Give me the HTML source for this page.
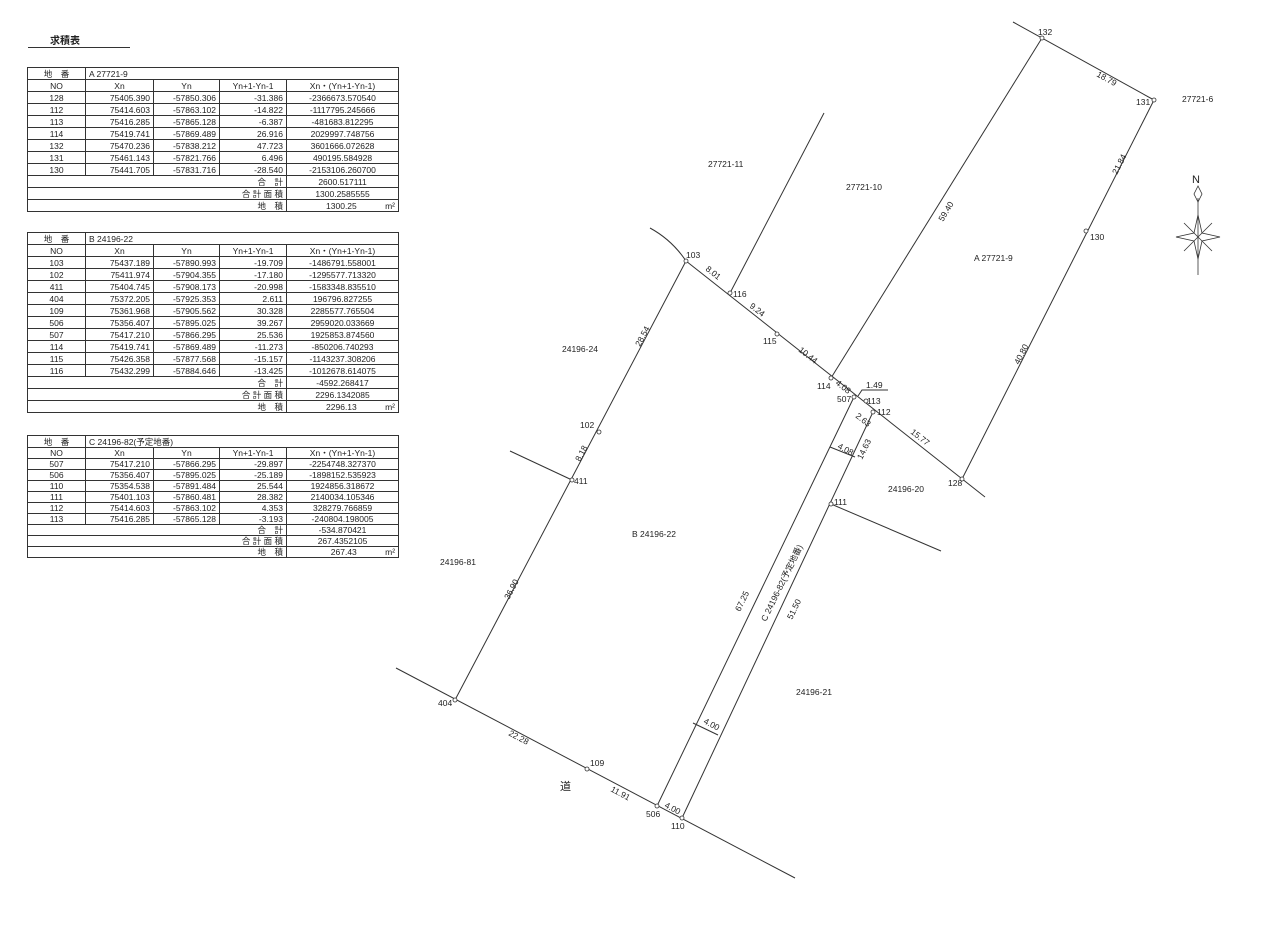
<!DOCTYPE html>
<html><head><meta charset="utf-8"><style>
body{margin:0;background:#fff;width:1280px;height:940px;position:relative;overflow:hidden;font-family:"Liberation Sans","Noto Sans CJK JP",sans-serif;color:#222}
table{position:absolute;left:27px;border-collapse:collapse;font-size:8.5px;table-layout:fixed;width:371px}
td{border:1px solid #333;padding:0 3px;white-space:nowrap;overflow:hidden;line-height:10px}
td.c{text-align:center}td.r{text-align:right}
.title{position:absolute;left:28px;top:32px;width:102px;border-bottom:1.5px solid #333;font-size:10px;font-weight:bold;padding-left:22px;box-sizing:border-box}
svg{position:absolute;left:0;top:0}
svg text{font-family:"Liberation Sans","Noto Sans CJK JP",sans-serif;font-size:8.5px;fill:#222}
</style></head><body>
<div class="title">求積表</div>
<table style="top:67px"><colgroup><col style="width:58px"><col style="width:68px"><col style="width:66px"><col style="width:67px"><col style="width:112px"></colgroup>
<tr style="height:12px"><td class="c">地　番</td><td colspan="4">A 27721-9</td></tr>
<tr style="height:12px"><td class="c">NO</td><td class="c">Xn</td><td class="c">Yn</td><td class="c">Yn+1-Yn-1</td><td class="c">Xn・(Yn+1-Yn-1)</td></tr>
<tr style="height:12px"><td class="c">128</td><td class="r">75405.390</td><td class="r">-57850.306</td><td class="r">-31.386</td><td class="c">-2366673.570540</td></tr>
<tr style="height:12px"><td class="c">112</td><td class="r">75414.603</td><td class="r">-57863.102</td><td class="r">-14.822</td><td class="c">-1117795.245666</td></tr>
<tr style="height:12px"><td class="c">113</td><td class="r">75416.285</td><td class="r">-57865.128</td><td class="r">-6.387</td><td class="c">-481683.812295</td></tr>
<tr style="height:12px"><td class="c">114</td><td class="r">75419.741</td><td class="r">-57869.489</td><td class="r">26.916</td><td class="c">2029997.748756</td></tr>
<tr style="height:12px"><td class="c">132</td><td class="r">75470.236</td><td class="r">-57838.212</td><td class="r">47.723</td><td class="c">3601666.072628</td></tr>
<tr style="height:12px"><td class="c">131</td><td class="r">75461.143</td><td class="r">-57821.766</td><td class="r">6.496</td><td class="c">490195.584928</td></tr>
<tr style="height:12px"><td class="c">130</td><td class="r">75441.705</td><td class="r">-57831.716</td><td class="r">-28.540</td><td class="c">-2153106.260700</td></tr>
<tr style="height:12px"><td colspan="4" class="r">合　計</td><td class="c">2600.517111</td></tr>
<tr style="height:12px"><td colspan="4" class="r">合 計 面 積</td><td class="c">1300.2585555</td></tr>
<tr style="height:12px"><td colspan="4" class="r">地　積</td><td class="r">1300.25&nbsp;&nbsp;&nbsp;&nbsp;&nbsp;&nbsp;&nbsp;&nbsp;&nbsp;&nbsp;&nbsp;&nbsp;m²</td></tr>
</table>
<table style="top:232px"><colgroup><col style="width:58px"><col style="width:68px"><col style="width:66px"><col style="width:67px"><col style="width:112px"></colgroup>
<tr style="height:12px"><td class="c">地　番</td><td colspan="4">B 24196-22</td></tr>
<tr style="height:12px"><td class="c">NO</td><td class="c">Xn</td><td class="c">Yn</td><td class="c">Yn+1-Yn-1</td><td class="c">Xn・(Yn+1-Yn-1)</td></tr>
<tr style="height:12px"><td class="c">103</td><td class="r">75437.189</td><td class="r">-57890.993</td><td class="r">-19.709</td><td class="c">-1486791.558001</td></tr>
<tr style="height:12px"><td class="c">102</td><td class="r">75411.974</td><td class="r">-57904.355</td><td class="r">-17.180</td><td class="c">-1295577.713320</td></tr>
<tr style="height:12px"><td class="c">411</td><td class="r">75404.745</td><td class="r">-57908.173</td><td class="r">-20.998</td><td class="c">-1583348.835510</td></tr>
<tr style="height:12px"><td class="c">404</td><td class="r">75372.205</td><td class="r">-57925.353</td><td class="r">2.611</td><td class="c">196796.827255</td></tr>
<tr style="height:12px"><td class="c">109</td><td class="r">75361.968</td><td class="r">-57905.562</td><td class="r">30.328</td><td class="c">2285577.765504</td></tr>
<tr style="height:12px"><td class="c">506</td><td class="r">75356.407</td><td class="r">-57895.025</td><td class="r">39.267</td><td class="c">2959020.033669</td></tr>
<tr style="height:12px"><td class="c">507</td><td class="r">75417.210</td><td class="r">-57866.295</td><td class="r">25.536</td><td class="c">1925853.874560</td></tr>
<tr style="height:12px"><td class="c">114</td><td class="r">75419.741</td><td class="r">-57869.489</td><td class="r">-11.273</td><td class="c">-850206.740293</td></tr>
<tr style="height:12px"><td class="c">115</td><td class="r">75426.358</td><td class="r">-57877.568</td><td class="r">-15.157</td><td class="c">-1143237.308206</td></tr>
<tr style="height:12px"><td class="c">116</td><td class="r">75432.299</td><td class="r">-57884.646</td><td class="r">-13.425</td><td class="c">-1012678.614075</td></tr>
<tr style="height:12px"><td colspan="4" class="r">合　計</td><td class="c">-4592.268417</td></tr>
<tr style="height:12px"><td colspan="4" class="r">合 計 面 積</td><td class="c">2296.1342085</td></tr>
<tr style="height:12px"><td colspan="4" class="r">地　積</td><td class="r">2296.13&nbsp;&nbsp;&nbsp;&nbsp;&nbsp;&nbsp;&nbsp;&nbsp;&nbsp;&nbsp;&nbsp;&nbsp;m²</td></tr>
</table>
<table style="top:435px"><colgroup><col style="width:58px"><col style="width:68px"><col style="width:66px"><col style="width:67px"><col style="width:112px"></colgroup>
<tr style="height:12px"><td class="c">地　番</td><td colspan="4">C 24196-82(予定地番)</td></tr>
<tr style="height:11px"><td class="c">NO</td><td class="c">Xn</td><td class="c">Yn</td><td class="c">Yn+1-Yn-1</td><td class="c">Xn・(Yn+1-Yn-1)</td></tr>
<tr style="height:11px"><td class="c">507</td><td class="r">75417.210</td><td class="r">-57866.295</td><td class="r">-29.897</td><td class="c">-2254748.327370</td></tr>
<tr style="height:11px"><td class="c">506</td><td class="r">75356.407</td><td class="r">-57895.025</td><td class="r">-25.189</td><td class="c">-1898152.535923</td></tr>
<tr style="height:11px"><td class="c">110</td><td class="r">75354.538</td><td class="r">-57891.484</td><td class="r">25.544</td><td class="c">1924856.318672</td></tr>
<tr style="height:11px"><td class="c">111</td><td class="r">75401.103</td><td class="r">-57860.481</td><td class="r">28.382</td><td class="c">2140034.105346</td></tr>
<tr style="height:11px"><td class="c">112</td><td class="r">75414.603</td><td class="r">-57863.102</td><td class="r">4.353</td><td class="c">328279.766859</td></tr>
<tr style="height:11px"><td class="c">113</td><td class="r">75416.285</td><td class="r">-57865.128</td><td class="r">-3.193</td><td class="c">-240804.198005</td></tr>
<tr style="height:11px"><td colspan="4" class="r">合　計</td><td class="c">-534.870421</td></tr>
<tr style="height:11px"><td colspan="4" class="r">合 計 面 積</td><td class="c">267.4352105</td></tr>
<tr style="height:11px"><td colspan="4" class="r">地　積</td><td class="r">267.43&nbsp;&nbsp;&nbsp;&nbsp;&nbsp;&nbsp;&nbsp;&nbsp;&nbsp;&nbsp;&nbsp;&nbsp;m²</td></tr>
</table>

<svg width="1280" height="940" viewBox="0 0 1280 940">
<g stroke="#333" stroke-width="1" fill="none">
<line x1="1013" y1="22" x2="1154" y2="100"/>
<line x1="1154" y1="100" x2="962" y2="479"/>
<line x1="1042" y1="38" x2="831" y2="378"/>
<path d="M650,228 Q672,240 686,261"/>
<line x1="686" y1="261" x2="985" y2="497"/>
<line x1="686" y1="261" x2="455" y2="700"/>
<line x1="396" y1="668" x2="795" y2="878"/>
<line x1="730" y1="293" x2="824" y2="113"/>
<line x1="854" y1="397" x2="657" y2="806"/>
<line x1="873" y1="412" x2="682" y2="818"/>
<line x1="572" y1="480" x2="510" y2="451"/>
<line x1="831" y1="504" x2="941" y2="551"/>
<polyline points="858,396 862,390 888,390"/>
<line x1="830" y1="447" x2="855" y2="457"/>
<line x1="693" y1="723" x2="718" y2="735"/>
</g>
<g fill="#fff" stroke="#333" stroke-width="0.8">
<circle cx="1042" cy="38" r="2"/><circle cx="1154" cy="100" r="2"/><circle cx="1086" cy="231" r="2"/><circle cx="962" cy="479" r="2"/>
<circle cx="873" cy="412" r="2"/><circle cx="866" cy="401" r="2"/><circle cx="854" cy="397" r="2"/><circle cx="831" cy="378" r="2"/>
<circle cx="777" cy="334" r="2"/><circle cx="730" cy="293" r="2"/><circle cx="686" cy="261" r="2"/><circle cx="599" cy="432" r="2"/>
<circle cx="572" cy="480" r="2"/><circle cx="455" cy="700" r="2"/><circle cx="587" cy="769" r="2"/><circle cx="657" cy="806" r="2"/>
<circle cx="682" cy="818" r="2"/><circle cx="831" cy="504" r="2"/>
</g>
<text x="1038" y="35">132</text><text x="1136" y="105">131</text><text x="1182" y="102">27721-6</text>
<text x="1090" y="240">130</text><text x="948" y="486">128</text><text x="877" y="415">112</text><text x="867" y="404">113</text>
<text x="837" y="402">507</text><text x="817" y="389">114</text><text x="763" y="344">115</text><text x="733" y="297">116</text>
<text x="686" y="258">103</text><text x="580" y="428">102</text><text x="574" y="484">411</text><text x="438" y="706">404</text>
<text x="590" y="766">109</text><text x="646" y="817">506</text><text x="671" y="829">110</text><text x="834" y="505">111</text>
<text x="708" y="167">27721-11</text><text x="846" y="190">27721-10</text><text x="974" y="261">A 27721-9</text>
<text x="562" y="352">24196-24</text><text x="888" y="492">24196-20</text><text x="632" y="537">B 24196-22</text>
<text x="440" y="565">24196-81</text><text x="796" y="695">24196-21</text><text x="866" y="388">1.49</text>
<text x="560" y="790" style="font-size:11px">道</text>
<text transform="translate(1096,76) rotate(29)">18.79</text>
<text transform="translate(1117,175) rotate(-63)">21.84</text>
<text transform="translate(1019,365) rotate(-63)">40.80</text>
<text transform="translate(943,222) rotate(-59)">59.40</text>
<text transform="translate(705,270) rotate(38)">8.01</text>
<text transform="translate(749,307) rotate(38)">9.24</text>
<text transform="translate(798,351) rotate(38)">10.44</text>
<text transform="translate(835,384) rotate(38)">4.08</text>
<text transform="translate(855,417) rotate(38)">2.63</text>
<text transform="translate(910,433) rotate(38)">15.77</text>
<text transform="translate(640,347) rotate(-62)">28.54</text>
<text transform="translate(580,462) rotate(-62)">8.18</text>
<text transform="translate(509,600) rotate(-62)">36.90</text>
<text transform="translate(508,735) rotate(28)">22.28</text>
<text transform="translate(610,791) rotate(28)">11.91</text>
<text transform="translate(664,807) rotate(28)">4.00</text>
<text transform="translate(703,723) rotate(28)">4.00</text>
<text transform="translate(837,448) rotate(28)">4.08</text>
<text transform="translate(862,460) rotate(-64)">14.63</text>
<text transform="translate(740,612) rotate(-64)">67.25</text>
<text transform="translate(766,622) rotate(-64)">C 24196-82(予定地番)</text>
<text transform="translate(792,620) rotate(-64)">51.50</text>
<g stroke="#333" stroke-width="0.8" fill="none">
<line x1="1198" y1="198" x2="1198" y2="275"/>
<path d="M1198,186 L1194,194 L1198,202 L1202,194 Z"/>
<path d="M1198,215 L1202,233 L1220,237 L1202,241 L1198,259 L1194,241 L1176,237 L1194,233 Z"/>
<line x1="1184" y1="223" x2="1212" y2="251"/><line x1="1212" y1="223" x2="1184" y2="251"/>
</g>
<text x="1192" y="183" style="font-size:11px">N</text>
</svg>
</body></html>
